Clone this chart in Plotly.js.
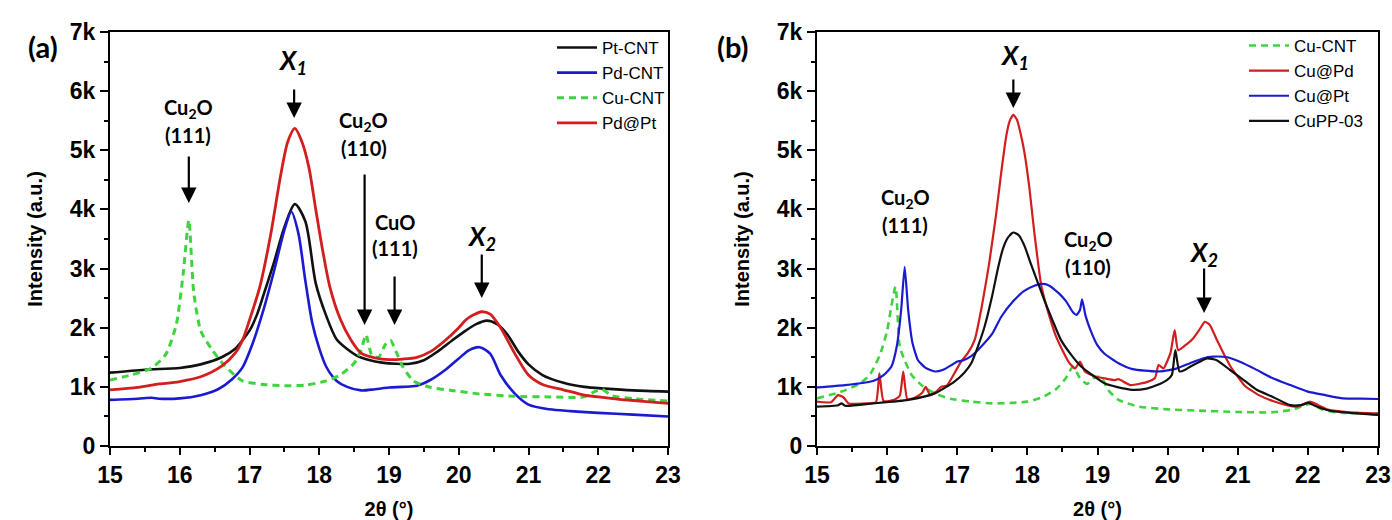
<!DOCTYPE html>
<html>
<head>
<meta charset="utf-8">
<script src="https://cdn.plot.ly/plotly-3.0.1.min.js"></script>
<style>html,body{margin:0;padding:0;background:#fff;}#chart{width:1392px;height:520px;}</style>
</head>
<body>
<div id="chart"></div>
<script>
// ---------- Panel (a) ----------
const ptCntX = [15.0,15.5,16.0,16.3,16.6,16.8,16.9,17.0,17.1,17.2,17.35,17.5,17.65,17.8,17.95,18.1,18.25,18.4,18.55,18.7,18.9,19.1,19.3,19.5,19.7,19.9,20.1,20.25,20.4,20.55,20.7,20.85,21.0,21.2,21.5,21.8,22.1,22.5,23.0];
const ptCntY = [1240,1290,1320,1380,1500,1650,1790,1950,2200,2550,3100,3700,4090,3800,2750,2200,1800,1640,1520,1460,1410,1390,1390,1450,1600,1780,1950,2060,2120,2060,1880,1600,1380,1200,1070,1000,970,940,920];

const pdCntX = [15.0,15.4,15.6,15.7,16.0,16.3,16.55,16.75,16.9,17.05,17.2,17.35,17.5,17.6,17.7,17.8,17.9,18.0,18.1,18.25,18.4,18.6,18.8,19.0,19.2,19.4,19.6,19.8,20.0,20.15,20.3,20.45,20.6,20.8,21.0,21.3,21.6,22.0,22.5,23.0];
const pdCntY = [780,800,815,800,805,860,960,1130,1330,1750,2300,2950,3650,3960,3600,2800,2080,1650,1340,1100,1000,940,960,990,1000,1020,1120,1280,1480,1620,1670,1560,1200,890,700,620,590,560,530,500];

const cuCntAX = [15.0,15.3,15.6,15.8,15.95,16.05,16.13,16.2,16.3,16.45,16.65,16.9,17.2,17.5,17.8,18.1,18.3,18.5,18.6,18.67,18.75,18.85,18.95,19.02,19.1,19.2,19.35,19.6,19.9,20.3,20.8,21.3,21.8,21.95,22.05,22.2,22.5,23.0];
const cuCntAY = [1115,1200,1320,1550,2050,2920,3820,2600,1950,1650,1350,1100,1040,1020,1030,1100,1200,1400,1620,1880,1550,1500,1720,1790,1600,1340,1100,990,940,880,840,830,830,920,960,850,800,760];

const pdPtX = [15.0,15.4,15.7,15.8,16.0,16.3,16.6,16.8,16.9,17.0,17.15,17.3,17.45,17.55,17.65,17.75,17.85,17.95,18.05,18.15,18.3,18.45,18.6,18.8,19.0,19.2,19.4,19.6,19.8,20.0,20.1,20.2,20.33,20.45,20.6,20.8,21.0,21.2,21.5,21.8,22.0,22.3,22.6,23.0];
const pdPtY = [950,990,1050,1060,1090,1170,1350,1580,1790,2130,2700,3550,4600,5150,5370,5150,4720,4000,3300,2700,2150,1800,1570,1490,1460,1470,1500,1600,1780,2000,2130,2210,2270,2230,2000,1570,1200,1040,950,860,830,790,760,720];

// ---------- Panel (b) ----------
const cuCntBX = [15.0,15.35,15.6,15.75,15.9,16.0,16.06,16.12,16.18,16.25,16.35,16.5,16.7,16.9,17.2,17.5,17.8,18.0,18.2,18.4,18.55,18.65,18.75,18.85,18.95,19.05,19.15,19.3,19.6,20.0,20.4,21.0,21.5,21.8,21.95,22.05,22.2,22.4,23.0];
const cuCntBY = [805,920,1050,1200,1550,1950,2360,2695,1680,1450,1200,1020,880,800,750,720,730,750,820,950,1150,1340,1150,1050,1150,1170,950,780,665,620,600,575,570,620,690,710,620,570,550];

const cuPdX = [15.0,15.2,15.3,15.38,15.45,15.7,15.84,15.89,15.95,16.1,16.18,16.23,16.29,16.4,16.5,16.55,16.61,16.7,16.77,16.85,16.96,17.05,17.15,17.25,17.35,17.45,17.55,17.63,17.7,17.75,17.8,17.85,17.9,17.96,18.03,18.1,18.2,18.3,18.4,18.5,18.6,18.68,18.75,18.82,18.95,19.1,19.25,19.3,19.47,19.7,19.82,19.87,19.94,20.04,20.1,20.15,20.25,20.35,20.45,20.53,20.6,20.7,20.8,20.9,21.1,21.3,21.5,21.7,21.85,22.03,22.15,22.3,22.6,23.0];
const cuPdY = [750,740,860,820,720,720,740,1230,760,780,850,1260,790,820,900,1000,870,920,1000,1020,1230,1420,1570,1800,2360,3050,3880,4650,5250,5500,5600,5520,5300,4950,4350,3600,2700,2250,1880,1620,1400,1310,1425,1260,1180,1145,1115,1130,1030,1080,1150,1370,1310,1570,1960,1620,1700,1800,1960,2100,2050,1800,1560,1340,1020,860,760,690,665,750,690,610,570,550];

const cuPtX = [15.0,15.4,15.8,15.95,16.06,16.14,16.2,16.25,16.3,16.36,16.44,16.55,16.68,16.8,16.92,17.0,17.06,17.2,17.34,17.5,17.63,17.8,17.95,18.1,18.2,18.3,18.45,18.55,18.65,18.7,18.75,18.78,18.83,18.9,19.0,19.1,19.3,19.5,19.85,20.1,20.32,20.5,20.65,20.85,21.03,21.25,21.5,21.75,22.0,22.25,22.5,22.75,23.0];
const cuPtY = [990,1030,1100,1200,1340,1700,2300,3030,2300,1750,1450,1320,1260,1290,1370,1430,1440,1520,1680,1900,2190,2450,2620,2710,2740,2720,2580,2450,2260,2215,2300,2480,2200,1960,1700,1560,1400,1300,1260,1300,1400,1480,1510,1500,1425,1300,1145,1030,920,860,805,800,795];

const cuPP03X = [15.0,15.3,15.35,15.4,15.8,16.3,16.68,16.96,17.1,17.2,17.3,17.39,17.5,17.58,17.65,17.72,17.8,17.88,17.96,18.05,18.15,18.25,18.35,18.48,18.62,18.77,18.95,19.1,19.27,19.5,19.7,19.85,19.99,20.06,20.11,20.17,20.25,20.32,20.45,20.56,20.7,20.89,21.1,21.27,21.5,21.75,21.9,22.01,22.1,22.3,22.6,23.0];
const cuPP03Y = [665,690,720,680,720,780,890,1090,1240,1400,1700,2020,2550,3000,3330,3520,3610,3560,3380,3080,2760,2440,2150,1790,1550,1340,1180,1060,1000,950,970,1030,1115,1200,1620,1260,1290,1340,1420,1480,1450,1285,1100,950,830,690,690,730,680,600,560,525];

// ---------- Axis ticks ----------
const xTickVals = [15,16,17,18,19,20,21,22,23];
const xTickText = ['15','16','17','18','19','20','21','22','23'];
const yTickVals = [0,1000,2000,3000,4000,5000,6000,7000];
const yTickText = ['0','1k','2k','3k','4k','5k','6k','7k'];

const BLACK = '#111111', BLUE = '#1a1ad0', GREEN = '#3fd43f', RED = '#d21e1e';
const DASH = '7px,5px';

const traces = [
  {x: ptCntX, y: ptCntY, name: 'Pt-CNT', xaxis: 'x', yaxis: 'y', legend: 'legend', line: {color: BLACK, width: 2.6, shape: 'spline', smoothing: 0.8}},
  {x: pdCntX, y: pdCntY, name: 'Pd-CNT', xaxis: 'x', yaxis: 'y', legend: 'legend', line: {color: BLUE, width: 2.6, shape: 'spline', smoothing: 0.8}},
  {x: cuCntAX, y: cuCntAY, name: 'Cu-CNT', xaxis: 'x', yaxis: 'y', legend: 'legend', line: {color: GREEN, width: 3, dash: DASH, shape: 'spline', smoothing: 0.6}},
  {x: pdPtX, y: pdPtY, name: 'Pd@Pt', xaxis: 'x', yaxis: 'y', legend: 'legend', line: {color: RED, width: 2.8, shape: 'spline', smoothing: 0.8}},

  {x: cuCntBX, y: cuCntBY, name: 'Cu-CNT', xaxis: 'x2', yaxis: 'y2', legend: 'legend2', line: {color: GREEN, width: 2.6, dash: DASH, shape: 'spline', smoothing: 0.6}},
  {x: cuPdX, y: cuPdY, name: 'Cu@Pd', xaxis: 'x2', yaxis: 'y2', legend: 'legend2', line: {color: RED, width: 2.2, shape: 'spline', smoothing: 0.5}},
  {x: cuPtX, y: cuPtY, name: 'Cu@Pt', xaxis: 'x2', yaxis: 'y2', legend: 'legend2', line: {color: BLUE, width: 2.2, shape: 'spline', smoothing: 0.5}},
  {x: cuPP03X, y: cuPP03Y, name: 'CuPP-03', xaxis: 'x2', yaxis: 'y2', legend: 'legend2', line: {color: BLACK, width: 2.2, shape: 'spline', smoothing: 0.6}}
].map(t => Object.assign({type: 'scatter', mode: 'lines', hoverinfo: 'skip'}, t));

const W = 1392, H = 520;
const tickFont = {family: 'Liberation Sans Narrow, Arial Narrow, Liberation Sans, Arial, sans-serif', size: 23, color: '#000', weight: 'bold'};
const titleFont = {family: 'Liberation Sans, Arial, sans-serif', size: 20, color: '#000', weight: 'bold'};
const annFont = {family: 'Lato, Open Sans, sans-serif', size: 20, color: '#000', weight: 'bold'};
const bigFont = {family: 'Lato, Open Sans, sans-serif', size: 29, color: '#000', weight: 'bold'};
const xLabelFont = {family: 'Lato, Open Sans, sans-serif', size: 26, color: '#000', weight: 'bold', style: 'italic'};

function xAxis(domain, anchor) {
  return {
    domain: domain, anchor: anchor, range: [15, 23], showgrid: false, zeroline: false,
    tickmode: 'array', tickvals: xTickVals, ticktext: xTickText,
    ticks: 'outside', ticklen: 7, tickwidth: 2, tickcolor: '#000',
    minor: {ticks: 'outside', dtick: 0.5, tick0: 15, ticklen: 4, tickwidth: 2, tickcolor: '#000', showgrid: false},
    showline: true, linewidth: 2, linecolor: '#000', mirror: true,
    tickfont: tickFont,
    title: {text: '2θ (°)', font: titleFont, standoff: 16}
  };
}
function yAxis(domain, anchor) {
  return {
    domain: domain, anchor: anchor, range: [0, 7000], showgrid: false, zeroline: false,
    tickmode: 'array', tickvals: yTickVals, ticktext: yTickText,
    ticks: 'outside', ticklen: 8, tickwidth: 2, tickcolor: '#000',
    minor: {ticks: 'outside', dtick: 500, tick0: 0, ticklen: 4, tickwidth: 2, tickcolor: '#000', showgrid: false},
    showline: true, linewidth: 2, linecolor: '#000', mirror: true,
    tickfont: tickFont,
    title: {text: 'Intensity (a.u.)', font: titleFont, standoff: 22}
  };
}

const yDom = [1 - 446 / H, 1 - 32 / H];
const legendBase = {
  yanchor: 'top', xanchor: 'left', bgcolor: 'rgba(0,0,0,0)', borderwidth: 0,
  font: {family: 'Liberation Sans, Arial, sans-serif', size: 17, color: '#000'},
  tracegroupgap: 0, itemwidth: 40
};

function arrow(xref, yref, x, y, ay) {
  return {xref: xref, yref: yref, x: x, y: y, text: '', showarrow: true, ax: 0, ay: ay,
          arrowhead: 2, arrowsize: 1.4, arrowwidth: 2.2, arrowcolor: '#000', standoff: 0};
}
function label(xref, yref, x, y, text, font) {
  return {xref: xref, yref: yref, x: x, y: y, text: text, showarrow: false, font: font, xanchor: 'center', yanchor: 'middle'};
}

const annotations = [
  // panel (a)
  {xref: 'paper', yref: 'paper', x: 26 / W, y: 1 - 27 / H, text: '(a)', showarrow: false, font: bigFont},
  label('x', 'y', 17.62, 6493, '<i>X</i><sub><i>1</i></sub>', xLabelFont),
  arrow('x', 'y', 17.64, 5546, -30),
  label('x', 'y', 16.12, 5715, 'Cu<sub>2</sub>O', annFont),
  label('x', 'y', 16.12, 5259, '(111)', annFont),
  arrow('x', 'y', 16.13, 4109, -48),
  label('x', 'y', 18.64, 5479, 'Cu<sub>2</sub>O', annFont),
  label('x', 'y', 18.64, 5039, '(110)', annFont),
  arrow('x', 'y', 18.65, 2046, -152),
  label('x', 'y', 19.08, 3788, 'CuO', annFont),
  label('x', 'y', 19.08, 3348, '(111)', annFont),
  arrow('x', 'y', 19.08, 2046, -50),
  label('x', 'y', 20.32, 3517, '<i>X</i><sub><i>2</i></sub>', xLabelFont),
  arrow('x', 'y', 20.33, 2503, -45),
  // panel (b)
  {xref: 'paper', yref: 'paper', x: 733 / W, y: 1 - 27 / H, text: '(b)', showarrow: false, font: bigFont},
  label('x2', 'y2', 17.82, 6594, '<i>X</i><sub><i>1</i></sub>', xLabelFont),
  arrow('x2', 'y2', 17.80, 5715, -30),
  label('x2', 'y2', 16.26, 4177, 'Cu<sub>2</sub>O', annFont),
  label('x2', 'y2', 16.26, 3737, '(111)', annFont),
  label('x2', 'y2', 18.87, 3483, 'Cu<sub>2</sub>O', annFont),
  label('x2', 'y2', 18.87, 3027, '(110)', annFont),
  label('x2', 'y2', 20.51, 3263, '<i>X</i><sub><i>2</i></sub>', xLabelFont),
  arrow('x2', 'y2', 20.52, 2249, -46)
];

const layout = {
  width: W, height: H,
  margin: {l: 0, r: 0, t: 0, b: 0},
  paper_bgcolor: '#fff', plot_bgcolor: '#fff',
  showlegend: true,
  xaxis: xAxis([110 / W, 668 / W], 'y'),
  yaxis: yAxis(yDom, 'x'),
  xaxis2: xAxis([817 / W, 1378 / W], 'y2'),
  yaxis2: yAxis(yDom, 'x2'),
  legend: Object.assign({}, legendBase, {x: 552 / W, y: 1 - 30 / H}),
  legend2: Object.assign({}, legendBase, {x: 1244 / W, y: 1 - 28 / H}),
  annotations: annotations
};

Plotly.newPlot('chart', traces, layout, {staticPlot: true, displayModeBar: false});
</script>
</body>
</html>
